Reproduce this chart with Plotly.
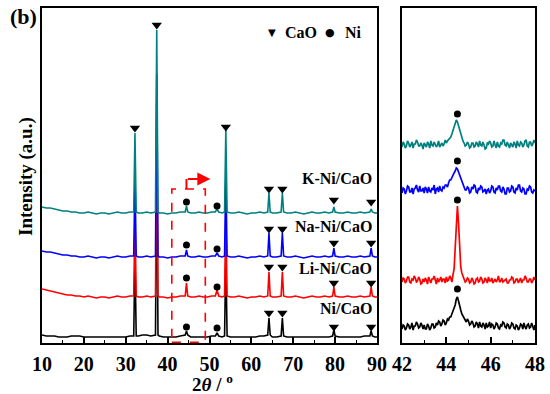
import plotly.graph_objects as go

# ---------------- data (left panel, 2theta 10-90) ----------------
two_theta = [
    10, 11, 12, 13, 14, 15, 16, 17, 18, 19, 20, 21, 22, 23, 24, 25, 26, 27, 28, 29, 30, 31,
    31.9, 32.2, 32.5, 33, 34, 35, 36,
    37.1, 37.4, 37.7, 38, 39, 40, 41, 42, 43,
    44.2, 44.5, 44.8, 45.5, 46.5, 47.5, 48.5, 49.5, 50.5,
    51.4, 51.8, 52.2, 53,
    53.6, 53.9, 54.2, 55, 56, 57, 58, 59, 60, 61, 62, 63,
    63.9, 64.2, 64.5, 65, 66,
    67.1, 67.4, 67.7, 68.5, 69.5, 70.5, 71.5, 72.5, 73.5, 74.5, 75.5, 76.5, 77.5, 78.5,
    79.4, 79.7, 80.0, 81, 82, 83, 84, 85, 86, 87,
    88.3, 88.6, 88.9, 89.5, 90,
]

k_ni_cao = [
    136, 135, 135, 134, 133, 132, 132, 131, 131, 130, 130, 131, 130, 129, 130, 130, 129, 130, 131, 130, 130, 131,
    131, 210, 131, 130, 130, 131, 130,
    131, 313, 131, 130, 130, 129, 130, 130, 131,
    131, 137, 131, 130, 130, 131, 130, 130, 131,
    131, 134, 131, 130,
    131, 213, 131, 130, 130, 131, 130, 129, 130, 130, 131, 130,
    131, 150, 131, 130, 130,
    131, 150, 131, 130, 130, 131, 130, 129, 130, 131, 130, 130, 131, 130,
    131, 136, 131, 130, 130, 131, 130, 130, 131, 130,
    131, 134, 131, 130, 130,
]

na_ni_cao = [
    92, 91, 91, 90, 89, 88, 88, 87, 87, 86, 86, 87, 86, 85, 86, 86, 85, 86, 87, 86, 86, 87,
    87, 166, 87, 86, 86, 87, 86,
    87, 269, 87, 86, 86, 85, 86, 86, 87,
    87, 93, 87, 86, 86, 87, 86, 86, 87,
    87, 90, 87, 86,
    87, 169, 87, 86, 86, 87, 86, 85, 86, 86, 87, 86,
    87, 110, 87, 86, 86,
    87, 110, 87, 86, 86, 87, 86, 85, 86, 87, 86, 86, 87, 86,
    87, 95, 87, 86, 86, 87, 86, 86, 87, 86,
    87, 95, 87, 86, 86,
]

li_ni_cao = [
    54, 53, 52, 51, 50, 49, 48, 48, 47, 47, 46, 47, 46, 45, 46, 46, 45, 46, 47, 46, 46, 47,
    47, 126, 47, 46, 46, 47, 46,
    47, 229, 47, 46, 46, 45, 46, 46, 47,
    47, 60, 47, 46, 46, 47, 46, 46, 47,
    47, 53, 47, 46,
    47, 129, 47, 46, 46, 47, 46, 45, 46, 46, 47, 46,
    47, 71, 47, 46, 46,
    47, 71, 47, 46, 46, 47, 46, 45, 46, 47, 46, 46, 47, 46,
    47, 56, 47, 46, 46, 47, 46, 46, 47, 46,
    47, 56, 47, 46, 46,
]

ni_cao = [
    8, 7, 7, 7, 6, 6, 6, 7, 7, 7, 6, 6, 6, 6, 6, 6, 6, 6, 6, 6, 6, 7,
    7, 86, 7, 7, 8, 8, 7,
    8, 189, 8, 7, 6, 6, 6, 6, 7,
    8, 12, 8, 6, 6, 6, 6, 6, 7,
    7, 10, 7, 6,
    7, 89, 7, 6, 6, 6, 6, 6, 6, 6, 7, 7,
    8, 25, 8, 6, 6,
    7, 25, 7, 6, 6, 6, 6, 6, 6, 6, 6, 6, 6, 6,
    7, 13, 7, 6, 6, 6, 6, 6, 6, 7,
    7, 12, 7, 6, 6,
]

# peak markers (CaO = triangle, Ni = circle)
cao_peaks_all = [32.2, 37.4, 53.9, 64.2, 67.4, 79.7, 88.6]
cao_peaks_small = [64.2, 67.4, 79.7, 88.6]
ni_peaks = [44.5, 51.8]
k_cao_mark = [215, 318, 216, 154, 154, 143, 141]
na_cao_mark = [114, 114, 100, 100]
li_cao_mark = [76, 76, 60, 60]
ni_cao_mark = [30, 30, 16, 16]
k_ni_mark = [141, 137]
na_ni_mark = [98, 94]
li_ni_mark = [65, 56]
n_ni_mark = [16, 15]

# ---------------- data (right panel, 42-48 zoom, 0.05 deg steps) ----------------
two_theta_zoom = [round(42 + 0.05 * i, 2) for i in range(121)]  # 42.00 ... 48.00 sampling grid
k_zoom = [
    196, 201, 199, 195, 197, 202, 200, 196, 198, 201, 195, 199, 199, 203, 201, 197, 197, 200, 198, 194,
    200, 197, 196, 201, 199, 195, 202, 198, 197, 201, 199, 196, 198, 202, 196, 199, 200, 197, 199, 203,
    200, 202, 203, 205, 206, 209, 212, 216,
    219, 223, 221, 217, 212, 208, 205, 202, 200, 197, 198, 201,
    199, 195, 196, 200, 200, 196, 197, 201, 199, 196, 202, 198, 197, 201, 198, 194, 195, 200, 199, 202,
    200, 196, 197, 202, 198, 195, 201, 197, 196, 200, 199, 203, 203, 198, 197, 201, 198, 195, 200, 197,
    196, 201, 199, 195, 202, 198, 197, 201, 200, 196, 198, 202, 203, 197, 196, 201, 201, 197, 199, 203, 200,
]
na_zoom = [
    150, 155, 154, 149, 152, 157, 156, 151, 151, 155, 149, 154, 155, 158, 153, 151, 157, 152, 152, 155,
    150, 156, 154, 150, 156, 152, 151, 155, 153, 158, 149, 154, 155, 151, 157, 153, 152, 156, 155, 158,
    158, 156, 160, 163, 163, 166, 167, 170,
    172, 175, 174, 171, 166, 163, 160, 158, 156, 153, 153, 156,
    155, 150, 151, 156, 154, 158, 157, 151, 150, 155, 153, 157, 156, 151, 152, 154, 149, 153, 154, 150,
    152, 157, 156, 151, 150, 155, 153, 157, 157, 152, 151, 156, 154, 149, 149, 155, 155, 151, 152, 157,
    156, 151, 150, 155, 153, 158, 158, 152, 151, 155, 154, 149, 149, 154, 153, 157, 156, 151, 150, 153, 152,
]
li_zoom = [
    61, 65, 64, 60, 62, 66, 66, 61, 60, 64, 63, 67, 65, 61, 62, 66, 64, 59, 60, 64,
    61, 65, 63, 59, 66, 62, 60, 64, 64, 67, 62, 59, 65, 61, 63, 66, 61, 64, 64, 60,
    66, 62, 63, 67, 65, 61, 68, 74,
    95, 125, 137, 120, 88, 76, 70, 67, 65, 61, 62, 65,
    64, 60, 61, 65, 63, 59, 60, 64, 65, 61, 62, 66, 64, 60, 61, 65, 63, 60, 66, 62,
    62, 65, 60, 63, 64, 61, 63, 67, 61, 62, 65, 61, 62, 64, 64, 60, 60, 63, 63, 66,
    65, 60, 61, 64, 64, 60, 62, 65, 60, 63, 63, 67, 65, 61, 61, 64, 64, 60, 62, 66, 63,
]
n_zoom = [
    14, 18, 17, 13, 15, 19, 18, 14, 16, 20, 13, 17, 17, 21, 19, 15, 16, 20, 18, 14,
    18, 14, 14, 19, 17, 13, 15, 19, 19, 15, 16, 20, 18, 22, 21, 17, 19, 23, 22, 18,
    20, 24, 23, 26, 26, 29, 31, 35,
    38, 44, 46, 42, 36, 33, 29, 27, 24, 22, 21, 24,
    22, 18, 19, 22, 20, 16, 17, 21, 19, 15, 21, 17, 16, 20, 18, 14, 20, 16, 17, 21,
    15, 19, 18, 14, 16, 20, 19, 15, 14, 18, 17, 21, 20, 16, 15, 19, 18, 14, 16, 20,
    19, 15, 14, 18, 17, 13, 15, 19, 18, 14, 20, 16, 14, 18, 19, 15, 16, 20, 17, 13, 18,
]
zoom_ni_peak = [44.5]
zoom_marks = {"k": [229], "na": [182], "li": [143], "n": [54]}

labels = ["K-Ni/CaO", "Na-Ni/CaO", "Li-Ni/CaO", "Ni/CaO"]
label_y = [164, 116, 75, 35]

# ---------------- figure ----------------
W, H = 550, 394
SERIF = "Liberation Serif"
fig = go.Figure()

series_left = [ni_cao, li_ni_cao, na_ni_cao, k_ni_cao]
series_right = [n_zoom, li_zoom, na_zoom, k_zoom]
cols_draw = ["#000000", "#ff0000", "#0000ff", "#008080"]
for ys, c in zip(series_left, cols_draw):
    fig.add_trace(go.Scatter(x=two_theta, y=ys, mode="lines",
                             line=dict(color=c, width=1.6), xaxis="x", yaxis="y",
                             showlegend=False, hoverinfo="skip"))
for ys, c in zip(series_right, cols_draw):
    fig.add_trace(go.Scatter(x=two_theta_zoom, y=ys, mode="lines",
                             line=dict(color=c, width=1.7), xaxis="x2", yaxis="y2",
                             showlegend=False, hoverinfo="skip"))

tri = dict(symbol="triangle-down", size=9, color="black")
dot = dict(symbol="circle", size=7, color="black")
for xs, ys in [(cao_peaks_all, k_cao_mark), (cao_peaks_small, na_cao_mark),
               (cao_peaks_small, li_cao_mark), (cao_peaks_small, ni_cao_mark)]:
    fig.add_trace(go.Scatter(x=xs, y=ys, mode="markers", marker=tri,
                             xaxis="x", yaxis="y", showlegend=False, hoverinfo="skip"))
for ys in [k_ni_mark, na_ni_mark, li_ni_mark, n_ni_mark]:
    fig.add_trace(go.Scatter(x=ni_peaks, y=ys, mode="markers", marker=dot,
                             xaxis="x", yaxis="y", showlegend=False, hoverinfo="skip"))
for key in ["k", "na", "li", "n"]:
    fig.add_trace(go.Scatter(x=zoom_ni_peak, y=zoom_marks[key], mode="markers", marker=dot,
                             xaxis="x2", yaxis="y2", showlegend=False, hoverinfo="skip"))

tickfont = dict(family=SERIF, size=20, color="black", weight="bold")
common_x = dict(showline=True, linewidth=2, linecolor="black", mirror=True,
                ticks="inside", ticklen=6, tickwidth=1.5, tickcolor="black",
                showgrid=False, zeroline=False, tickfont=tickfont, automargin=False,
                ticklabelstandoff=2)
common_y = dict(showline=True, linewidth=2, linecolor="black", mirror=True,
                showticklabels=False, ticks="", showgrid=False, zeroline=False,
                range=[0, 335], automargin=False)

fig.update_layout(
    width=W, height=H, margin=dict(l=0, r=0, t=0, b=0, pad=0, autoexpand=False),
    paper_bgcolor="white", plot_bgcolor="white",
    xaxis=dict(domain=[42 / W, 377 / W], range=[10, 90], tickvals=[10, 20, 30, 40, 50, 60, 70, 80, 90],
               minor=dict(dtick=5, tick0=5, ticks="inside", ticklen=3, tickwidth=1.2, tickcolor="black"),
               anchor="y", **common_x),
    xaxis2=dict(domain=[402 / W, 535 / W], range=[42, 48], tickvals=[42, 44, 46, 48],
                minor=dict(dtick=1, ticks="inside", ticklen=3, tickwidth=1.2, tickcolor="black"),
                anchor="y2", **common_x),
    yaxis=dict(domain=[51 / H, 386 / H], anchor="x", **common_y),
    yaxis2=dict(domain=[51 / H, 386 / H], anchor="x2", **common_y),
)

# dashed zoom box and arrow
box_x = [41, 49]
box_top = 154
arrow_y = 164
fig.add_shape(type="rect", xref="x", yref="y", x0=box_x[0], x1=box_x[1], y0=0.8, y1=box_top,
              line=dict(color="red", width=1.6, dash="dash"))
fig.add_shape(type="line", xref="x", yref="y", x0=44.5, x1=44.5, y0=box_top, y1=arrow_y,
              line=dict(color="red", width=2))
fig.add_annotation(x=50.2, y=arrow_y, ax=44.5, ay=arrow_y, xref="x", yref="y",
                   axref="x", ayref="y", showarrow=True, arrowhead=2, arrowsize=1.3,
                   arrowwidth=2, arrowcolor="red", text="")

lab_font = dict(family=SERIF, size=16, color="black", weight="bold")
for lab, yy in zip(labels, label_y):
    fig.add_annotation(x=89.3, y=yy, xref="x", yref="y", text=lab, showarrow=False,
                       xanchor="right", yanchor="middle", font=lab_font)

# top legend
fig.add_annotation(x=272 / W, y=1 - 33 / H, xref="paper", yref="paper", text="▼",
                   showarrow=False, xanchor="center", yanchor="middle",
                   font=dict(family="DejaVu Sans", size=10, color="black"))
fig.add_annotation(x=283 / W, y=1 - 33 / H, xref="paper", yref="paper", text="CaO",
                   showarrow=False, xanchor="left", yanchor="middle", font=lab_font)
fig.add_annotation(x=330 / W, y=1 - 33 / H, xref="paper", yref="paper", text="●",
                   showarrow=False, xanchor="center", yanchor="middle",
                   font=dict(family="DejaVu Sans", size=11, color="black"))
fig.add_annotation(x=343 / W, y=1 - 33 / H, xref="paper", yref="paper", text="Ni",
                   showarrow=False, xanchor="left", yanchor="middle", font=lab_font)

# panel label and axis titles
fig.add_annotation(x=8 / W, y=1 - 17 / H, xref="paper", yref="paper", text="(b)",
                   showarrow=False, xanchor="left", yanchor="middle",
                   font=dict(family=SERIF, size=22, color="black", weight="bold"))
fig.add_annotation(x=26 / W, y=1 - 177 / H, xref="paper", yref="paper", text="Intensity (a.u.)",
                   showarrow=False, textangle=-90, xanchor="center", yanchor="middle",
                   font=dict(family=SERIF, size=19, color="black", weight="bold"))
fig.add_annotation(x=212 / W, y=1 - 383 / H, xref="paper", yref="paper",
                   text="2<i>θ</i> / <sup>o</sup>", showarrow=False,
                   xanchor="center", yanchor="middle",
                   font=dict(family=SERIF, size=19, color="black", weight="bold"))

fig.write_html("out.html", config={"displayModeBar": False},
               post_script="document.body.style.margin='0';document.body.style.overflow='hidden';")
